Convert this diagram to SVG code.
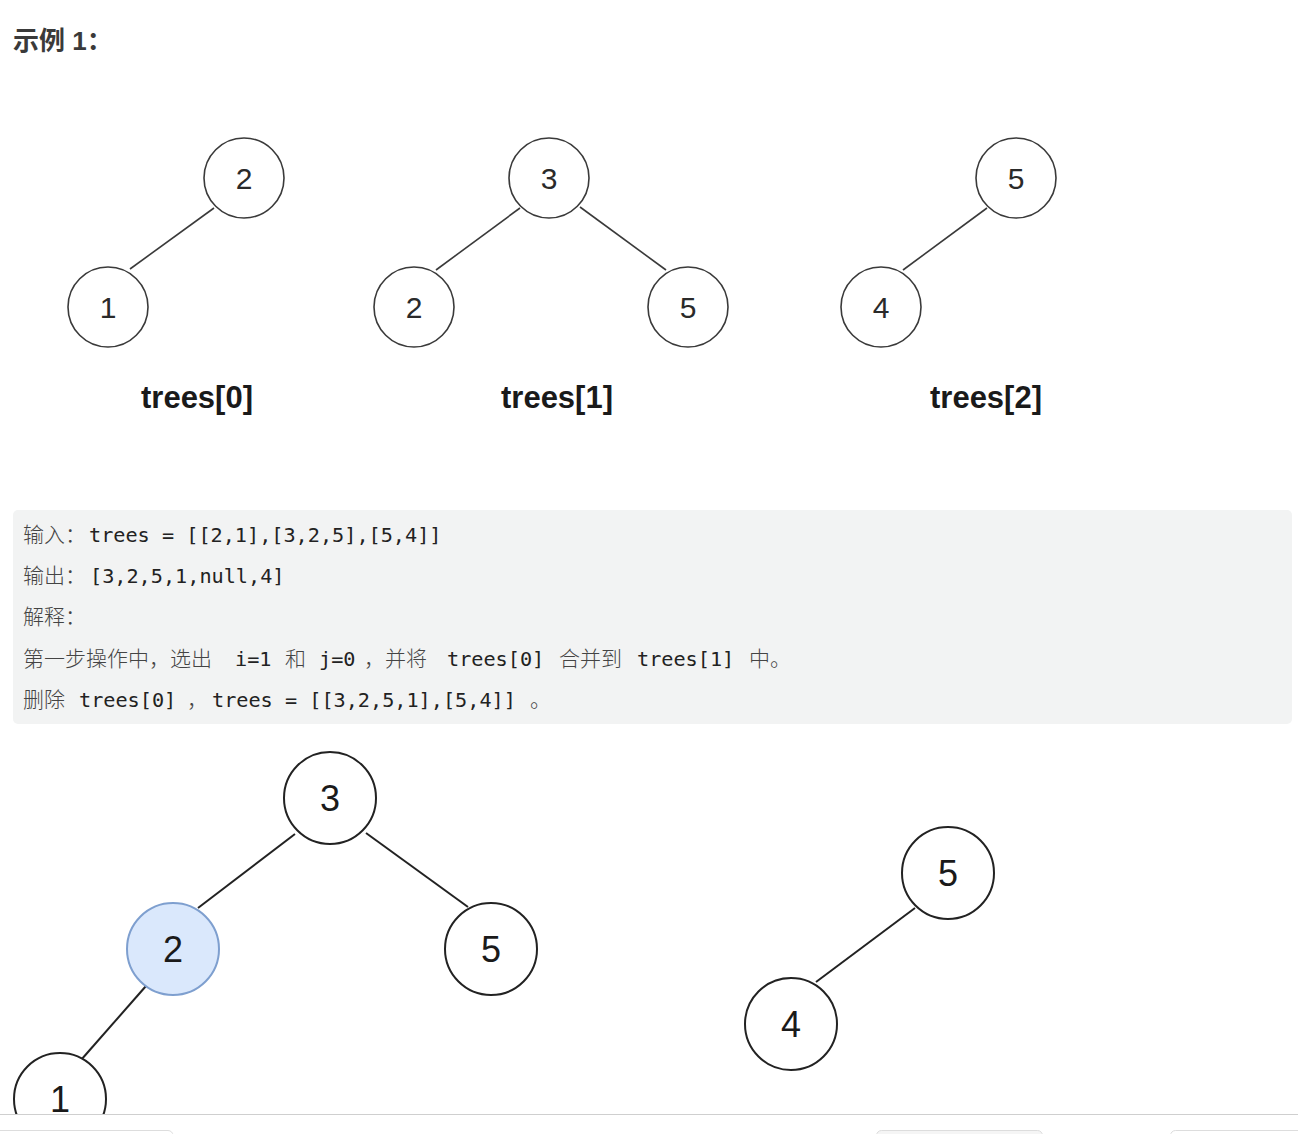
<svg xmlns="http://www.w3.org/2000/svg" width="1298" height="1134" viewBox="0 0 1298 1134">
<style>
.n circle{fill:#fff;stroke:#3a3a3a;stroke-width:1.6}
.b circle{fill:#fff;stroke:#222;stroke-width:2}
.hl circle{fill:#dae8fc;stroke:#7e9fcf;stroke-width:2}
.n text{font-family:"Liberation Sans",Arial,sans-serif;font-size:30px;fill:#2a2a2a;text-anchor:middle}
.b text,.hl text{font-family:"Liberation Sans",Arial,sans-serif;font-size:36px;fill:#1a1a1a;text-anchor:middle}
.edges line{stroke:#3a3a3a;stroke-width:1.6}
.edges2 line{stroke:#222;stroke-width:2}
.lbl{font-family:"Liberation Sans",Arial,sans-serif;font-weight:bold;font-size:31px;fill:#1a1a1a;text-anchor:middle}
.code{font-family:"DejaVu Sans Mono","Liberation Mono",monospace;font-size:20.2px;fill:#222}
.cjk{font-family:"Noto Sans CJK SC",sans-serif;font-size:21px;font-weight:300;fill:#444}
</style>
<rect width="1298" height="1134" fill="#fff"/>
<text x="13" y="50" font-family="'Liberation Sans','Noto Sans CJK SC',sans-serif" font-weight="bold" font-size="26" fill="#3a3a3a">示例 1：</text>

<g class="edges" id="edges-top">
<line x1="214" y1="208" x2="130" y2="269"/>
<line x1="520" y1="208" x2="436" y2="270"/>
<line x1="580" y1="207" x2="666" y2="270"/>
<line x1="987" y1="208" x2="903" y2="270"/>
</g>

<g id="t0-2" class="n"><circle cx="244" cy="178" r="40"/><text x="244" y="189">2</text></g>
<g id="t0-1" class="n"><circle cx="108" cy="307" r="40"/><text x="108" y="318">1</text></g>
<g id="t1-3" class="n"><circle cx="549" cy="178" r="40"/><text x="549" y="189">3</text></g>
<g id="t1-2" class="n"><circle cx="414" cy="307" r="40"/><text x="414" y="318">2</text></g>
<g id="t1-5" class="n"><circle cx="688" cy="307" r="40"/><text x="688" y="318">5</text></g>
<g id="t2-5" class="n"><circle cx="1016" cy="178" r="40"/><text x="1016" y="189">5</text></g>
<g id="t2-4" class="n"><circle cx="881" cy="307" r="40"/><text x="881" y="318">4</text></g>

<text class="lbl" x="197" y="408">trees[0]</text>
<text class="lbl" x="557" y="408">trees[1]</text>
<text class="lbl" x="986" y="408">trees[2]</text>

<rect x="13" y="510" width="1279" height="214" rx="5" fill="#f2f3f3"/>
<text y="542"><tspan class="cjk" x="23">输入：</tspan><tspan class="code" x="89">trees = [[2,1],[3,2,5],[5,4]]</tspan></text>
<text y="583"><tspan class="cjk" x="23">输出：</tspan><tspan class="code" x="90">[3,2,5,1,null,4]</tspan></text>
<text y="624"><tspan class="cjk" x="23">解释：</tspan></text>
<text y="666"><tspan class="cjk" x="23">第一步操作中，选出</tspan><tspan class="code" x="235">i=1</tspan><tspan class="cjk" x="285">和</tspan><tspan class="code" x="319">j=0</tspan><tspan class="cjk" x="364">，并将</tspan><tspan class="code" x="447">trees[0]</tspan><tspan class="cjk" x="559">合并到</tspan><tspan class="code" x="637">trees[1]</tspan><tspan class="cjk" x="749">中。</tspan></text>
<text y="707"><tspan class="cjk" x="23">删除</tspan><tspan class="code" x="79">trees[0]</tspan><tspan class="cjk" x="187">，</tspan><tspan class="code" x="212">trees = [[3,2,5,1],[5,4]]</tspan><tspan class="cjk" x="530">。</tspan></text>

<g class="edges2" id="edges-bottom">
<line x1="295" y1="834" x2="198" y2="908"/>
<line x1="366" y1="833" x2="468" y2="907"/>
<line x1="146" y1="986" x2="81" y2="1060"/>
<line x1="915" y1="908" x2="816" y2="982"/>
</g>

<g id="m-3" class="b"><circle cx="330" cy="798" r="46"/><text x="330" y="811">3</text></g>
<g id="m-2" class="hl"><circle cx="173" cy="949" r="46"/><text x="173" y="962">2</text></g>
<g id="m-5" class="b"><circle cx="491" cy="949" r="46"/><text x="491" y="962">5</text></g>
<g id="m-1" class="b"><circle cx="60" cy="1099" r="46"/><text x="60" y="1112">1</text></g>
<g id="r-5" class="b"><circle cx="948" cy="873" r="46"/><text x="948" y="886">5</text></g>
<g id="r-4" class="b"><circle cx="791" cy="1024" r="46"/><text x="791" y="1037">4</text></g>

<rect x="0" y="1114" width="1298" height="20" fill="#fff"/>
<line x1="0" y1="1114.5" x2="1298" y2="1114.5" stroke="#cfcfcf" stroke-width="1"/>
<rect x="-10" y="1130.5" width="183" height="20" rx="5" fill="#fff" stroke="#ddd"/>
<rect x="876.5" y="1130.5" width="166" height="20" rx="5" fill="#f5f5f5" stroke="#ddd"/>
<rect x="1170.5" y="1130.5" width="140" height="20" rx="5" fill="#fff" stroke="#ddd"/>
</svg>
